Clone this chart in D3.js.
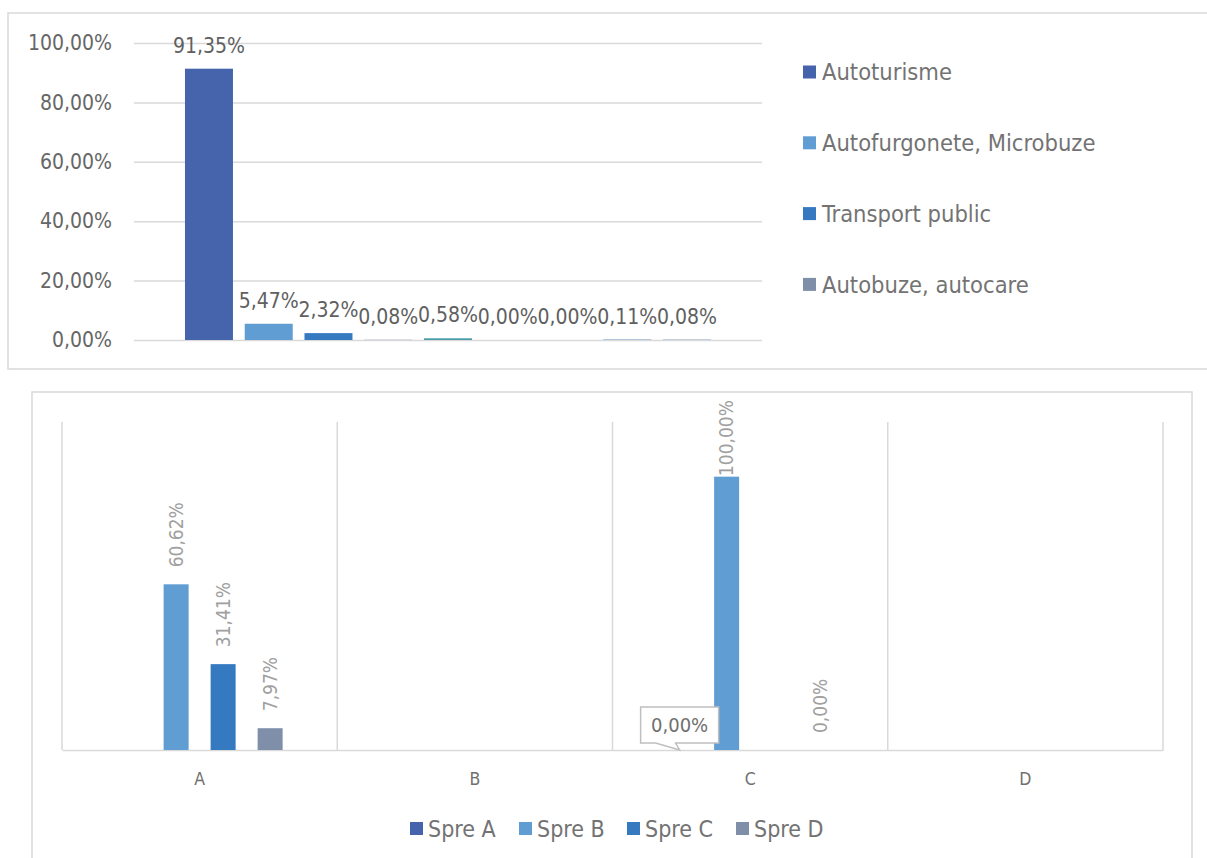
<!DOCTYPE html>
<html>
<head>
<meta charset="utf-8">
<script src="https://cdn.jsdelivr.net/npm/d3@7"></script>
<style>
  html, body { margin: 0; padding: 0; background: #fff; }
  svg { display: block; }
  text { font-family: 'DejaVu Sans Condensed', 'DejaVu Sans', sans-serif; font-stretch: condensed; }
</style>
</head>
<body>
<svg id="chart" width="1207" height="858"></svg>
<script>
// ---- Top chart: share of vehicle types ----
const topValues = [91.35, 5.47, 2.32, 0.08, 0.58, 0.00, 0.00, 0.11, 0.08];
const topColors = ["#4664ac", "#609dd2", "#357ac0", "#7f8fa9", "#4b9ea8", "#8faadc", "#a5a5a5", "#2a609a", "#1f4e86"];
const topLegend = ["Autoturisme", "Autofurgonete, Microbuze", "Transport public", "Autobuze, autocare"];
const topTicks = [0, 20, 40, 60, 80, 100];

// ---- Bottom chart: destination split per category ----
const categories = ["A", "B", "C", "D"];
const seriesNames = ["Spre A", "Spre B", "Spre C", "Spre D"];
const spreA = [null, null, 0.00, null];
const spreB = [60.62, null, 100.00, null];
const spreC = [31.41, null, null, null];
const spreD = [7.97, null, 0.00, null];
const seriesColors = ["#4664ac", "#609dd2", "#357ac0", "#7f8fa9"];
// the label drawn as a boxed callout
const callout = { series: "Spre A", category: "C" };

const ro = d3.formatLocale({ decimal: ",", thousands: ".", grouping: [3], currency: ["", ""] });
const pct = v => ro.format(".2f")(v) + "%";

const svg = d3.select("#chart");
const grid = "#d9d9d9";

// ================= TOP CHART =================
svg.append("rect").attr("x", 8).attr("y", 13).attr("width", 1230).attr("height", 356)
  .attr("fill", "#fff").attr("stroke", grid).attr("stroke-width", 1.5);

const tp = { left: 134, right: 762, top: 43, bottom: 340 };
const yTop = d3.scaleLinear().domain([0, 100]).range([tp.bottom, tp.top]);
const xTop = d3.scaleBand().domain(d3.range(topValues.length))
  .range([tp.left, tp.right]).paddingInner(0.197).paddingOuter(0.853);

const yAxisTop = svg.append("g").attr("transform", `translate(${tp.left},0)`)
  .call(d3.axisLeft(yTop).tickValues(topTicks).tickFormat(pct)
    .tickSize(-(tp.right - tp.left)).tickPadding(22));
yAxisTop.select(".domain").remove();
yAxisTop.selectAll(".tick line").attr("stroke", grid).attr("stroke-width", 1.5);
yAxisTop.selectAll(".tick text").attr("fill", "#666").style("font-size", "21px");

svg.append("g").selectAll("rect").data(topValues).join("rect")
  .attr("x", (d, i) => xTop(i)).attr("width", xTop.bandwidth())
  .attr("y", d => yTop(d)).attr("height", d => yTop(0) - yTop(d))
  .attr("fill", (d, i) => topColors[i]);

svg.append("g").selectAll("text").data(topValues).join("text")
  .attr("x", (d, i) => xTop(i) + xTop.bandwidth() / 2)
  .attr("y", d => yTop(d) - 16)
  .attr("text-anchor", "middle").attr("fill", "#606060").style("font-size", "21px")
  .text(pct);

const legTop = svg.append("g").selectAll("g").data(topLegend).join("g")
  .attr("transform", (d, i) => `translate(803,${72 + i * 70.8})`);
legTop.append("rect").attr("x", 0).attr("y", -6.5).attr("width", 13).attr("height", 13)
  .attr("fill", (d, i) => topColors[i]);
legTop.append("text").attr("x", 19).attr("y", 0).attr("dy", "0.36em")
  .attr("fill", "#737373").style("font-size", "23.5px").text(d => d);

// ================= BOTTOM CHART =================
svg.append("rect").attr("x", 32).attr("y", 392).attr("width", 1160).attr("height", 500)
  .attr("fill", "#fff").attr("stroke", grid).attr("stroke-width", 1.5);

const bp = { left: 62, right: 1163, top: 422, bottom: 750 };
const xCat = d3.scaleBand().domain(categories).range([bp.left, bp.right]);
const xSer = d3.scaleBand().domain(seriesNames).range([0, xCat.bandwidth()])
  .paddingInner(0.468).paddingOuter(1.162);
const yBot = d3.scaleLinear().domain([0, 120]).range([bp.bottom, bp.top]);

// vertical separators between categories
const seps = categories.map(c => xCat(c)).concat([bp.right]);
svg.append("g").selectAll("line").data(seps).join("line")
  .attr("x1", d => d).attr("x2", d => d).attr("y1", bp.top).attr("y2", bp.bottom)
  .attr("stroke", grid).attr("stroke-width", 1.5);

const xAxis = svg.append("g").attr("transform", `translate(0,${bp.bottom})`)
  .call(d3.axisBottom(xCat).tickSize(0).tickPadding(23));
xAxis.select(".domain").attr("stroke", grid).attr("stroke-width", 1.5);
xAxis.selectAll(".tick text").attr("fill", "#707070").style("font-size", "17.5px");

const rows = [];
const cols = [spreA, spreB, spreC, spreD];
categories.forEach((c, ci) => seriesNames.forEach((s, si) => {
  const v = cols[si][ci];
  if (v !== null) rows.push({ c, s, v, color: seriesColors[si] });
}));

svg.append("g").selectAll("rect").data(rows).join("rect")
  .attr("x", d => xCat(d.c) + xSer(d.s)).attr("width", xSer.bandwidth())
  .attr("y", d => yBot(d.v)).attr("height", d => yBot(0) - yBot(d.v))
  .attr("fill", d => d.color);

// rotated value labels, kept inside the plot area
const rotRows = rows.filter(d => !(d.s === callout.series && d.c === callout.category));
const rl = svg.append("g").selectAll("text").data(rotRows).join("text")
  .attr("text-anchor", "start").attr("fill", "#a0a0a0").style("font-size", "19px")
  .text(d => pct(d.v));
rl.each(function(d) {
  const len = this.getComputedTextLength();
  const cx = xCat(d.c) + xSer(d.s) + xSer.bandwidth() / 2;
  const start = Math.max(yBot(d.v) - 17, bp.top - 22 + len);
  d3.select(this).attr("transform", `translate(${cx},${start}) rotate(-90)`).attr("dy", "0.36em");
});

// boxed callout label
rows.filter(d => d.s === callout.series && d.c === callout.category).forEach(d => {
  const tx = xCat(d.c) + xSer(d.s) + xSer.bandwidth() / 2;
  const ty = yBot(d.v);
  const g = svg.append("g");
  const bx = tx - 39, by = ty - 43, bw = 78, bh = 36;
  const path = `M${bx},${by} H${bx + bw} V${by + bh} H${tx - 4} L${tx},${ty} L${tx - 24},${by + bh} H${bx} Z`;
  g.append("path").attr("d", path).attr("fill", "#fff").attr("stroke", "#bfbfbf").attr("stroke-width", 1.5);
  g.append("text").attr("x", bx + bw / 2).attr("y", by + bh / 2).attr("dy", "0.36em")
    .attr("text-anchor", "middle").attr("fill", "#707070").style("font-size", "20px")
    .text(pct(d.v));
});

// bottom legend
const legX = [410, 519, 627, 736];
const legBot = svg.append("g").selectAll("g").data(seriesNames).join("g")
  .attr("transform", (d, i) => `translate(${legX[i]},828.5)`);
legBot.append("rect").attr("x", 0).attr("y", -6.5).attr("width", 13).attr("height", 13)
  .attr("fill", (d, i) => seriesColors[i]);
legBot.append("text").attr("x", 18).attr("y", 0).attr("dy", "0.36em")
  .attr("fill", "#737373").style("font-size", "23px").text(d => d);
</script>
</body>
</html>
